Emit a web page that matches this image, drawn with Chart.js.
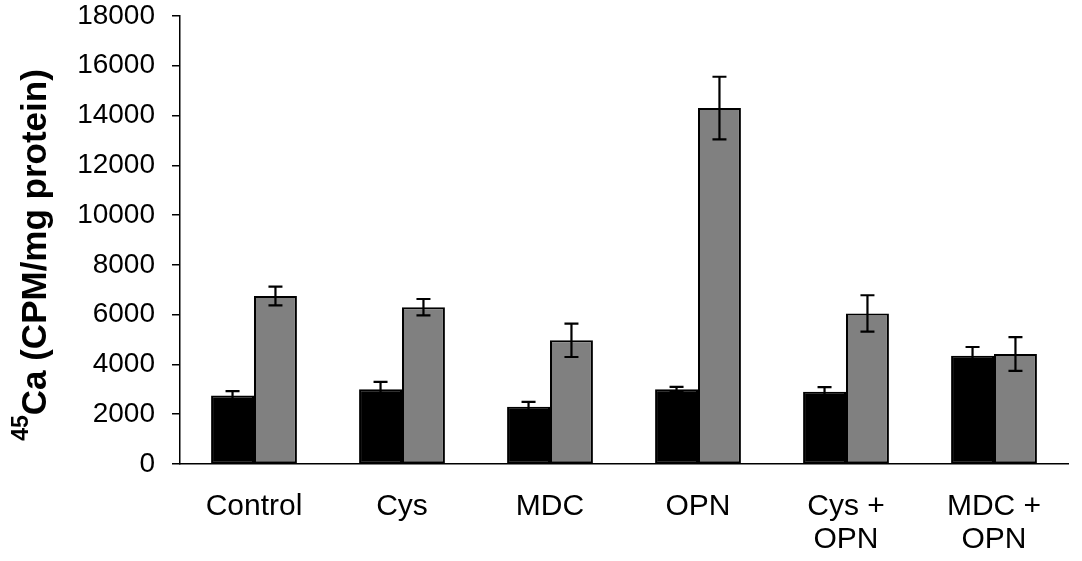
<!DOCTYPE html>
<html>
<head>
<meta charset="utf-8">
<script src="https://cdn.jsdelivr.net/npm/chart.js@4.4.0/dist/chart.umd.min.js"></script>
<style>
  html, body { margin: 0; padding: 0; background: #fff; }
  #wrap { width: 1082px; height: 561px; }
</style>
</head>
<body>
<div id="wrap"><canvas id="chart" width="1082" height="561"></canvas></div>
<script>
const categories = ["Control", "Cys", "MDC", "OPN", ["Cys +", "OPN"], ["MDC +", "OPN"]];
const blackValues = [2750, 3000, 2300, 3000, 2900, 4350];
const blackErrors = [180, 300, 200, 100, 190, 350];
const grayValues = [6750, 6300, 4970, 14300, 6050, 4420];
const grayErrors = [380, 330, 670, 1260, 730, 680];
const yTicks = [0, 2000, 4000, 6000, 8000, 10000, 12000, 14000, 16000, 18000];

const FONT = "'Liberation Sans', Arial, sans-serif";

// error bars from the y scale
const errorBars = {
    id: "errorBars",
    afterDatasetsDraw(chart) {
        const ctx = chart.ctx;
        const y = chart.scales.y;
        ctx.save();
        ctx.strokeStyle = "#000";
        ctx.lineWidth = 2.2;
        chart.data.datasets.forEach((ds, di) => {
            const meta = chart.getDatasetMeta(di);
            meta.data.forEach((bar, i) => {
                const v = ds.data[i], e = ds.errors[i];
                const top = y.getPixelForValue(v + e);
                const bot = y.getPixelForValue(v - e);
                ctx.beginPath();
                ctx.moveTo(bar.x, top); ctx.lineTo(bar.x, bot);
                ctx.moveTo(bar.x - 7, top); ctx.lineTo(bar.x + 7, top);
                ctx.moveTo(bar.x - 7, bot); ctx.lineTo(bar.x + 7, bot);
                ctx.stroke();
            });
        });
        ctx.restore();
    }
};

// y title with superscript 45
const yTitle = {
    id: "yTitle",
    afterDraw(chart) {
        const ctx = chart.ctx;
        const area = chart.chartArea;
        const main = "Ca (CPM/mg protein)";
        ctx.save();
        ctx.fillStyle = "#000";
        ctx.textBaseline = "alphabetic";
        ctx.font = "bold 23px " + FONT;
        const supW = ctx.measureText("45").width;
        ctx.font = "bold 35px " + FONT;
        const mainW = ctx.measureText(main).width;
        const total = supW + mainW;
        ctx.translate(46, (area.top + area.bottom) / 2 + 15);
        ctx.rotate(-Math.PI / 2);
        ctx.font = "bold 23px " + FONT;
        ctx.fillText("45", -total / 2, -18);
        ctx.font = "bold 35px " + FONT;
        ctx.fillText(main, -total / 2 + supW, 0);
        ctx.restore();
    }
};

new Chart(document.getElementById("chart"), {
    type: "bar",
    data: {
        labels: categories,
        datasets: [{
            data: blackValues,
            errors: blackErrors,
            backgroundColor: "#000000",
            borderColor: "#000000",
            borderWidth: 2,
            borderSkipped: false
        }, {
            data: grayValues,
            errors: grayErrors,
            backgroundColor: "#808080",
            borderColor: "#000000",
            borderWidth: 2,
            borderSkipped: false
        }]
    },
    options: {
        responsive: false,
        animation: false,
        layout: { padding: { top: 16, right: 14, left: 0, bottom: 0 } },
        plugins: { legend: { display: false }, tooltip: { enabled: false } },
        datasets: { bar: { barPercentage: 1.0, categoryPercentage: 0.58 } },
        scales: {
            x: {
                grid: { display: false, drawTicks: false },
                border: { color: "#000", width: 1.5 },
                ticks: { color: "#000", font: { family: FONT, size: 30, lineHeight: 1.1 }, padding: 26, maxRotation: 0, autoSkip: false },
                afterFit(scale) { scale.height = 97; scale.paddingTop = 0; scale.paddingBottom = 0; }
            },
            y: {
                min: 0, max: 18000,
                afterBuildTicks(scale) { scale.ticks = yTicks.map(v => ({ value: v })); },
                grid: { drawOnChartArea: false, drawTicks: true, tickLength: 8, color: "#000", lineWidth: 1.5 },
                border: { color: "#000", width: 1.5 },
                ticks: { color: "#000", font: { family: FONT, size: 28 }, padding: 17, callback: v => String(v) },
                afterFit(scale) { scale.width = 180; scale.paddingTop = 0; scale.paddingBottom = 0; }
            }
        }
    },
    plugins: [errorBars, yTitle]
});
</script>
</body>
</html>
